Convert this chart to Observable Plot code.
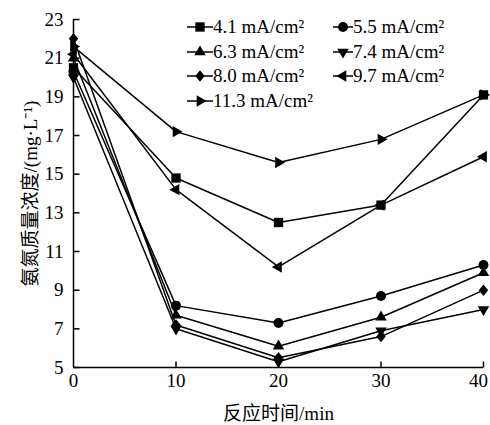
<!DOCTYPE html>
<html><head><meta charset="utf-8">
<script src="https://cdn.jsdelivr.net/npm/d3@7"></script>
<script src="https://cdn.jsdelivr.net/npm/@observablehq/plot@0.6"></script>
<style>
body{margin:0;background:#fff;}
#wrap{position:relative;width:490px;height:425px;font-family:"Liberation Serif","Noto Sans CJK SC",serif;color:#000;}
#legend{position:absolute;left:187px;top:15px;display:grid;grid-template-columns:146px 150px;}
.item{display:flex;align-items:center;height:24.5px;font-size:19px;white-space:nowrap;}
.item svg{display:block;}
</style>
</head><body>
<div id="wrap"><div id="chart"></div><div id="legend"></div></div>
<script>
// ---- data ----
const times = [0, 10, 20, 30, 40];
const seriesLabels = ["4.1 mA/cm²", "5.5 mA/cm²", "6.3 mA/cm²", "7.4 mA/cm²", "8.0 mA/cm²", "9.7 mA/cm²", "11.3 mA/cm²"];
const s41  = [20.5, 14.8, 12.5, 13.4, 19.1];
const s55  = [20.3, 8.2, 7.3, 8.7, 10.3];
const s63  = [21.0, 7.7, 6.1, 7.6, 9.9];
const s74  = [20.0, 7.0, 5.3, 6.9, 8.0];
const s80  = [22.0, 7.2, 5.5, 6.6, 9.0];
const s97  = [21.2, 14.2, 10.2, 13.4, 15.9];
const s113 = [21.6, 17.2, 15.6, 16.8, 19.1];
const seriesValues = [s41, s55, s63, s74, s80, s97, s113];
const xTicks = [0, 10, 20, 30, 40];
const yTicks = [5, 7, 9, 11, 13, 15, 17, 19, 21, 23];
const xLabel = "反应时间/min";
const yLabel = "氨氮质量浓度/(mg·L⁻¹)";

// ---- symbols ----
const sq3 = Math.sqrt(3);
function tri(angle) {
  return {draw(ctx, size) {
    const r = 0.85 * Math.sqrt(size / (sq3 * 3));
    const pts = [[0, -2 * r], [-sq3 * r, r], [sq3 * r, r]];
    const c = Math.cos(angle), s = Math.sin(angle);
    pts.forEach(([x, y], i) => {
      const X = x * c - y * s, Y = x * s + y * c;
      i ? ctx.lineTo(X, Y) : ctx.moveTo(X, Y);
    });
    ctx.closePath();
  }};
}
const square = {draw(ctx, size) { const w = Math.sqrt(size) * 1.05; ctx.rect(-w / 2, -w / 2, w, w); }};
const circle = {draw(ctx, size) { const r = Math.sqrt(size / Math.PI); ctx.moveTo(r, 0); ctx.arc(0, 0, r, 0, 2 * Math.PI); }};
const diamond = {draw(ctx, size) { const r = Math.sqrt(size / Math.PI); const h = r * 1.15, w = r * 0.95; ctx.moveTo(0, -h); ctx.lineTo(w, 0); ctx.lineTo(0, h); ctx.lineTo(-w, 0); ctx.closePath(); }};
const symbols = [square, circle, tri(0), tri(Math.PI), diamond, tri(-Math.PI / 2), tri(Math.PI / 2)];
// inward tick glyphs (short strokes starting at the axis)
const tickRight = {draw(ctx) { ctx.moveTo(0, 0); ctx.lineTo(6, 0); }};
const tickUp = {draw(ctx) { ctx.moveTo(0, 0); ctx.lineTo(0, -6); }};

const rows = [];
seriesLabels.forEach((lab, i) => times.forEach((t, j) => rows.push({series: lab, t, v: seriesValues[i][j]})));

const chart = Plot.plot({
  width: 490, height: 425,
  marginLeft: 73, marginRight: 7, marginTop: 19, marginBottom: 58,
  style: {fontFamily: '"Liberation Serif","Noto Sans CJK SC",serif', fontSize: "19px", color: "#000", background: "#fff"},
  x: {domain: [0, 40], ticks: xTicks, tickSize: 0, tickPadding: 6, tickFormat: d => String(d), label: xLabel, labelArrow: "none", labelAnchor: "center", labelOffset: 52},
  y: {domain: [5, 23], ticks: yTicks, tickSize: 0, tickPadding: 10, tickFormat: d => String(d), label: yLabel, labelArrow: "none", labelAnchor: "center", labelOffset: 50},
  marks: [
    Plot.ruleX([0], {stroke: "#000", strokeWidth: 1.5}),
    Plot.ruleY([5], {stroke: "#000", strokeWidth: 1.5}),
    Plot.dot(yTicks, {y: d => d, frameAnchor: "left", symbol: tickRight, stroke: "#000", strokeWidth: 1.5, r: 3}),
    Plot.dot(xTicks.slice(1), {x: d => d, frameAnchor: "bottom", symbol: tickUp, stroke: "#000", strokeWidth: 1.5, r: 3}),
    Plot.line(rows, {x: "t", y: "v", z: "series", stroke: "#000", strokeWidth: 1.5}),
    ...seriesLabels.map((lab, i) => Plot.dot(rows.filter(d => d.series === lab), {x: "t", y: "v", symbol: symbols[i], fill: "#000", stroke: "none", r: 5}))
  ]
});
document.getElementById("chart").appendChild(chart);

// strip any label arrows if this Plot version adds them; nudge the last x tick label inside the view
d3.select(chart).selectAll("text").each(function() {
  const t = this.textContent;
  if (/[→↑]/.test(t)) {
    const tspans = d3.select(this).selectAll("tspan");
    if (tspans.size()) tspans.each(function() { this.textContent = this.textContent.replace(/\s*[→↑]\s*/g, ""); });
    else this.textContent = t.replace(/\s*[→↑]\s*/g, "");
  }
  if (t === "40") d3.select(this).attr("dx", -5);
});

// ---- legend ----
const legend = d3.select("#legend");
seriesLabels.forEach((lab, i) => {
  const w = i % 2 === 0 ? 26 : 20;
  const item = legend.append("div").attr("class", "item");
  const svg = item.append("svg").attr("width", w).attr("height", 14);
  svg.append("line").attr("x1", 0).attr("x2", w).attr("y1", 7).attr("y2", 7).attr("stroke", "#000").attr("stroke-width", 1.5);
  svg.append("path").attr("transform", `translate(${w / 2},7)`).attr("d", d3.symbol(symbols[i], Math.PI * 25)()).attr("fill", "#000");
  item.append("span").text(lab);
});
</script>
</body></html>
